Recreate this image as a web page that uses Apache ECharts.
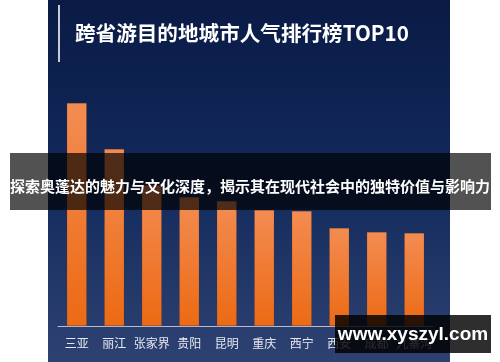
<!DOCTYPE html>
<html><head><meta charset="utf-8">
<script src="https://cdn.jsdelivr.net/npm/echarts@6/dist/echarts.min.js"></script>
<style>html,body{margin:0;padding:0;background:#fff}#c{width:500px;height:362px}</style>
</head><body><div id="c"></div>
<script>
var categories = ['三亚','丽江','张家界','贵阳','昆明','重庆','西宁','西安','成都','九寨沟'];
var values = [223,177,141,129,125,116,115,98,94,93];
var titleText = '跨省游目的地城市人气排行榜TOP10';
var bannerText = '探索奥蓬达的魅力与文化深度，揭示其在现代社会中的独特价值与影响力';
var watermarkText = 'www.xyszyl.com';

var chart = echarts.init(document.getElementById('c'), null, {renderer:'canvas'});
var font = '"Noto Sans CJK SC", "Noto Sans", sans-serif';
chart.setOption({
  animation:false,
  grid:{left:58,right:67,top:86,bottom:36},
  xAxis:{type:'category',data:categories,
    axisLine:{lineStyle:{color:'#b8bccb',width:1}},
    axisTick:{show:false},
    axisLabel:{color:'#e6e8ef',fontSize:12,fontFamily:font,margin:11,interval:0}},
  yAxis:{type:'value',min:0,max:240,show:false,splitLine:{show:false}},
  series:[{type:'bar',data:values,barWidth:20,z:2,
    itemStyle:{color:new echarts.graphic.LinearGradient(0,0,0,1,[
      {offset:0,color:'#f38c52'},{offset:1,color:'#ec6a14'}]),
      borderColor:'rgba(120,50,20,0.35)',borderWidth:0.5}}],
  graphic:[
    {type:'rect',z:-10,zlevel:0,shape:{x:48,y:0,width:402,height:362},
      style:{fill:new echarts.graphic.LinearGradient(0,0,0,1,[
        {offset:0,color:'#0a1a45'},{offset:0.5,color:'#122a5c'},{offset:1,color:'#2e4272'}])}},
    {type:'rect',z:5,shape:{x:58,y:5,width:2,height:57},style:{fill:'#c9ccd6'}},
    {type:'text',z:5,style:{x:75,y:33,text:titleText,fill:'#ffffff',
      font:'bold 20.6px '+font,textVerticalAlign:'middle'}},
    {type:'rect',z:20,shape:{x:10,y:153,width:481,height:57},style:{fill:'rgba(0,0,0,0.68)'}},
    {type:'text',z:21,style:{x:250,y:186,text:bannerText,fill:'#ffffff',
      font:'bold 15px '+font,textAlign:'center',textVerticalAlign:'middle'}},
    {type:'rect',z:20,shape:{x:335,y:315,width:156,height:38},style:{fill:'rgba(0,0,0,0.82)'}},
    {type:'text',z:21,style:{x:413,y:335,text:watermarkText,fill:'#ffffff',
      font:'bold 19px "Liberation Sans", Arial, sans-serif',textAlign:'center',textVerticalAlign:'middle'}}
  ]
});
</script></body></html>
